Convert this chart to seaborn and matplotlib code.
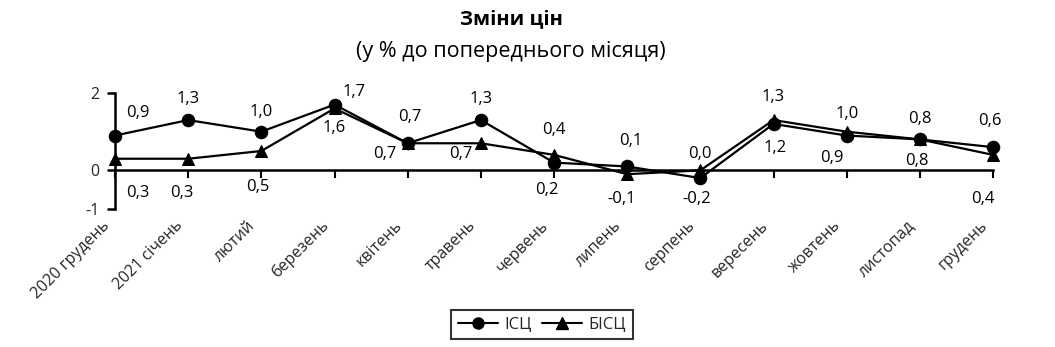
import numpy as np
import pandas as pd
import matplotlib
matplotlib.use("Agg")
import matplotlib.pyplot as plt
import matplotlib.transforms as mtransforms
from matplotlib.lines import Line2D
import seaborn as sns

# ---- data ----
months = ["2020 грудень", "2021 січень", "лютий", "березень", "квітень", "травень",
          "червень", "липень", "серпень", "вересень", "жовтень", "листопад", "грудень"]
isc = [0.9, 1.3, 1.0, 1.7, 0.7, 1.3, 0.2, 0.1, -0.2, 1.2, 0.9, 0.8, 0.6]
bisc = [0.3, 0.3, 0.5, 1.6, 0.7, 0.7, 0.4, -0.1, 0.0, 1.3, 1.0, 0.8, 0.4]
series_names = ["ІСЦ", "БІСЦ"]
title = "Зміни цін"
subtitle = "(у % до попереднього місяця)"

# label offsets in pixels (style only), image-down positive: upper label, lower label
upper_off = [(23, -23), (0, -21), (0, -20), (20, -13), (2, -26), (0, -21), (0, -25),
             (4, -25), (0, -16), (0, -23), (0, -18), (0, -20), (-3, -26)]
lower_off = [(23, 34), (-6, 34), (-4, 36), (0, 20), (-23, 11), (-20, 11), (-7, 27),
             (-6, 25), (-4, 21), (2, 24), (-15, 22), (-3, 22), (-10, 44)]

sns.set_theme(style="white")
plt.rcParams["font.family"] = ["Open Sans", "DejaVu Sans"]

W, H = 1055, 347
fig = plt.figure(figsize=(W / 100, H / 100), dpi=100)
ax = fig.add_axes([115 / W, (H - 209) / H, (993 - 115) / W, (209 - 93) / H])
ax.set_facecolor("none")

x = np.arange(len(months))
df = pd.DataFrame({"x": x, series_names[0]: isc, series_names[1]: bisc})
long = df.melt(id_vars="x", var_name="series", value_name="value")

sns.lineplot(data=long, x="x", y="value", hue="series", style="series",
             markers={series_names[0]: "o", series_names[1]: "^"}, dashes=False,
             palette={series_names[0]: "black", series_names[1]: "black"},
             markersize=9, linewidth=1.6, markeredgecolor="black", legend=False,
             ax=ax, clip_on=False)

ax.set_xlim(0, 12)
ax.set_ylim(-1, 2)
ax.set_xlabel("")
ax.set_ylabel("")

for s in ["top", "right"]:
    ax.spines[s].set_visible(False)
ax.spines["bottom"].set_position(("data", 0))
for s in ["left", "bottom"]:
    ax.spines[s].set_color("black")
    ax.spines[s].set_linewidth(1.8)

ax.tick_params(axis="y", direction="out", length=6, width=1.8, color="black", pad=5, left=True)
ax.tick_params(axis="x", direction="out", length=6, width=1.5, color="black", pad=32, bottom=True)

ax.set_yticks([-1, 0, 2])
ax.set_yticklabels(["-1", "0", "2"], fontsize=11.5)
ax.set_xticks(x)
ax.set_xticklabels(months, fontsize=11.5)
offset = mtransforms.ScaledTranslation(-8 / 100, 0, fig.dpi_scale_trans)
for lab in ax.get_xticklabels():
    lab.set_rotation(45)
    lab.set_ha("right")
    lab.set_va("center")
    lab.set_rotation_mode("anchor")
    lab.set_transform(lab.get_transform() + offset)

def fmt(v):
    return f"{v:.1f}".replace(".", ",")

for i in range(len(months)):
    a, b = isc[i], bisc[i]
    hi, lo = (a, b) if a >= b else (b, a)
    ax.annotate(fmt(hi), xy=(i, hi), xytext=(upper_off[i][0], -upper_off[i][1]),
                textcoords="offset pixels", ha="center", va="center", fontsize=12,
                color="black")
    ax.annotate(fmt(lo), xy=(i, lo), xytext=(lower_off[i][0], -lower_off[i][1]),
                textcoords="offset pixels", ha="center", va="center", fontsize=12,
                color="black")

fig.text(511 / W, 1 - 19 / H, title, ha="center", va="center", fontsize=14.5,
         fontweight="bold", color="black")
fig.text(511 / W, 1 - 51 / H, subtitle, ha="center", va="center", fontsize=15.5,
         color="black")

handles = [Line2D([], [], color="black", marker="o", markersize=8, linewidth=1.5),
           Line2D([], [], color="black", marker="^", markersize=8, linewidth=1.5)]
leg = fig.legend(handles, series_names, loc="center", bbox_to_anchor=(542 / W, 1 - 324.5 / H),
                 ncol=2, frameon=True, fancybox=False, fontsize=12, handlelength=2.4,
                 columnspacing=0.6, handletextpad=0.4, borderpad=0.4)
leg.get_frame().set_edgecolor("black")
leg.get_frame().set_linewidth(1.5)

fig.savefig("out.png", dpi=100)
